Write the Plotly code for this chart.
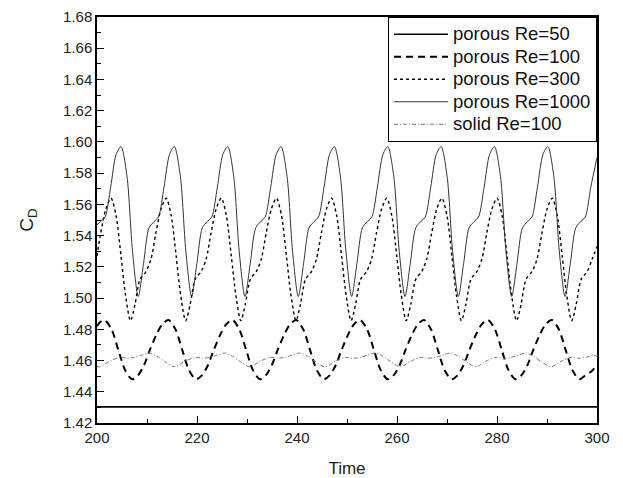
import plotly.graph_objects as go

# ---------------- data ----------------
# porous Re=50 : constant drag
t_re50 = [200.0, 300.0]
cd_re50 = [1.4303, 1.4303]

# porous Re=100 (dashed)
t_re100 = [200.00, 200.75,
           201.50, 202.90, 204.25, 205.60, 207.00, 208.20, 209.40, 210.60, 211.80, 213.00,
           214.28, 215.68, 217.03, 218.38, 219.78, 220.98, 222.18, 223.38, 224.58, 225.78,
           227.06, 228.46, 229.81, 231.16, 232.56, 233.76, 234.96, 236.16, 237.36, 238.56,
           239.84, 241.24, 242.59, 243.94, 245.34, 246.54, 247.74, 248.94, 250.14, 251.34,
           252.62, 254.02, 255.37, 256.72, 258.12, 259.32, 260.52, 261.72, 262.92, 264.12,
           265.40, 266.80, 268.15, 269.50, 270.90, 272.10, 273.30, 274.50, 275.70, 276.90,
           278.18, 279.58, 280.93, 282.28, 283.68, 284.88, 286.08, 287.28, 288.48, 289.68,
           290.96, 292.36, 293.71, 295.06, 296.46, 297.66, 298.86, 300.00]
cd_re100 = [1.482, 1.485,
            1.486, 1.480, 1.467, 1.454, 1.448, 1.4505, 1.457, 1.467, 1.476, 1.483,
            1.486, 1.480, 1.467, 1.454, 1.448, 1.4505, 1.457, 1.467, 1.476, 1.483,
            1.486, 1.480, 1.467, 1.454, 1.448, 1.4505, 1.457, 1.467, 1.476, 1.483,
            1.486, 1.480, 1.467, 1.454, 1.448, 1.4505, 1.457, 1.467, 1.476, 1.483,
            1.486, 1.480, 1.467, 1.454, 1.448, 1.4505, 1.457, 1.467, 1.476, 1.483,
            1.486, 1.480, 1.467, 1.454, 1.448, 1.4505, 1.457, 1.467, 1.476, 1.483,
            1.486, 1.480, 1.467, 1.454, 1.448, 1.4505, 1.457, 1.467, 1.476, 1.483,
            1.486, 1.480, 1.467, 1.454, 1.448, 1.4505, 1.453, 1.457]

# porous Re=300 (dotted)
t_re300 = [200.00, 200.77, 201.77,
           202.80, 203.80, 204.80, 205.70, 206.70, 207.60, 208.60, 209.80, 210.80, 211.80, 212.80,
           213.83, 214.83, 215.83, 216.73, 217.73, 218.63, 219.63, 220.83, 221.83, 222.83, 223.83,
           224.86, 225.86, 226.86, 227.76, 228.76, 229.66, 230.66, 231.86, 232.86, 233.86, 234.86,
           235.89, 236.89, 237.89, 238.79, 239.79, 240.69, 241.69, 242.89, 243.89, 244.89, 245.89,
           246.92, 247.92, 248.92, 249.82, 250.82, 251.72, 252.72, 253.92, 254.92, 255.92, 256.92,
           257.95, 258.95, 259.95, 260.85, 261.85, 262.75, 263.75, 264.95, 265.95, 266.95, 267.95,
           268.98, 269.98, 270.98, 271.88, 272.88, 273.78, 274.78, 275.98, 276.98, 277.98, 278.98,
           280.01, 281.01, 282.01, 282.91, 283.91, 284.81, 285.81, 287.01, 288.01, 289.01, 290.01,
           291.04, 292.04, 293.04, 293.94, 294.94, 295.84, 296.84, 298.04, 299.04, 300.00]
cd_re300 = [1.527, 1.542, 1.557,
            1.564, 1.553, 1.527, 1.502, 1.4855, 1.496, 1.512, 1.517, 1.525, 1.542, 1.557,
            1.564, 1.553, 1.527, 1.502, 1.4855, 1.496, 1.512, 1.517, 1.525, 1.542, 1.557,
            1.564, 1.553, 1.527, 1.502, 1.4855, 1.496, 1.512, 1.517, 1.525, 1.542, 1.557,
            1.564, 1.553, 1.527, 1.502, 1.4855, 1.496, 1.512, 1.517, 1.525, 1.542, 1.557,
            1.564, 1.553, 1.527, 1.502, 1.4855, 1.496, 1.512, 1.517, 1.525, 1.542, 1.557,
            1.564, 1.553, 1.527, 1.502, 1.4855, 1.496, 1.512, 1.517, 1.525, 1.542, 1.557,
            1.564, 1.553, 1.527, 1.502, 1.4855, 1.496, 1.512, 1.517, 1.525, 1.542, 1.557,
            1.564, 1.553, 1.527, 1.502, 1.4855, 1.496, 1.512, 1.517, 1.525, 1.542, 1.557,
            1.564, 1.553, 1.527, 1.502, 1.4855, 1.496, 1.512, 1.517, 1.525, 1.533]

# porous Re=1000 (thin solid)
t_re1000 = [200.00, 200.73, 201.63, 202.73, 203.83,
            204.80, 206.00, 207.10, 208.25, 209.30, 210.40, 211.40, 212.30, 213.40, 214.50,
            215.47, 216.67, 217.77, 218.92, 219.97, 221.07, 222.07, 222.97, 224.07, 225.17,
            226.14, 227.34, 228.44, 229.59, 230.64, 231.74, 232.74, 233.64, 234.74, 235.84,
            236.81, 238.01, 239.11, 240.26, 241.31, 242.41, 243.41, 244.31, 245.41, 246.51,
            247.48, 248.68, 249.78, 250.93, 251.98, 253.08, 254.08, 254.98, 256.08, 257.18,
            258.15, 259.35, 260.45, 261.60, 262.65, 263.75, 264.75, 265.65, 266.75, 267.85,
            268.82, 270.02, 271.12, 272.27, 273.32, 274.42, 275.42, 276.32, 277.42, 278.52,
            279.49, 280.69, 281.79, 282.94, 283.99, 285.09, 286.09, 286.99, 288.09, 289.19,
            290.16, 291.36, 292.46, 293.61, 294.66, 295.76, 296.76, 297.66, 298.76, 300.00]
cd_re1000 = [1.547, 1.549, 1.552, 1.571, 1.592,
             1.597, 1.578, 1.530, 1.501, 1.522, 1.545, 1.549, 1.552, 1.571, 1.592,
             1.597, 1.578, 1.530, 1.501, 1.522, 1.545, 1.549, 1.552, 1.571, 1.592,
             1.597, 1.578, 1.530, 1.501, 1.522, 1.545, 1.549, 1.552, 1.571, 1.592,
             1.597, 1.578, 1.530, 1.501, 1.522, 1.545, 1.549, 1.552, 1.571, 1.592,
             1.597, 1.578, 1.530, 1.501, 1.522, 1.545, 1.549, 1.552, 1.571, 1.592,
             1.597, 1.578, 1.530, 1.501, 1.522, 1.545, 1.549, 1.552, 1.571, 1.592,
             1.597, 1.578, 1.530, 1.501, 1.522, 1.545, 1.549, 1.552, 1.571, 1.592,
             1.597, 1.578, 1.530, 1.501, 1.522, 1.545, 1.549, 1.552, 1.571, 1.592,
             1.597, 1.578, 1.530, 1.501, 1.522, 1.545, 1.549, 1.552, 1.571, 1.590]

# solid Re=100 (dash-dot, grey)
t_solid100 = [200.00,
              200.50, 202.50, 204.50, 206.00, 207.50, 209.00, 210.50, 212.00, 213.50,
              215.55, 217.55, 219.55, 221.05, 222.55, 224.05, 225.55, 227.05, 228.55,
              230.60, 232.60, 234.60, 236.10, 237.60, 239.10, 240.60, 242.10, 243.60,
              245.65, 247.65, 249.65, 251.15, 252.65, 254.15, 255.65, 257.15, 258.65,
              260.70, 262.70, 264.70, 266.20, 267.70, 269.20, 270.70, 272.20, 273.70,
              275.75, 277.75, 279.75, 281.25, 282.75, 284.25, 285.75, 287.25, 288.75,
              290.80, 292.80, 294.80, 296.30, 297.80, 299.30, 300.00]
cd_solid100 = [1.4563,
               1.456, 1.4595, 1.462, 1.4615, 1.462, 1.4635, 1.4648, 1.4628, 1.4595,
               1.456, 1.4595, 1.462, 1.4615, 1.462, 1.4635, 1.4648, 1.4628, 1.4595,
               1.456, 1.4595, 1.462, 1.4615, 1.462, 1.4635, 1.4648, 1.4628, 1.4595,
               1.456, 1.4595, 1.462, 1.4615, 1.462, 1.4635, 1.4648, 1.4628, 1.4595,
               1.456, 1.4595, 1.462, 1.4615, 1.462, 1.4635, 1.4648, 1.4628, 1.4595,
               1.456, 1.4595, 1.462, 1.4615, 1.462, 1.4635, 1.4648, 1.4628, 1.4595,
               1.456, 1.4595, 1.462, 1.4615, 1.462, 1.4635, 1.4625]

series_names = ["porous Re=50", "porous Re=100", "porous Re=300", "porous Re=1000", "solid Re=100"]

x_range = [200, 300]
y_range = [1.42, 1.68]

# ---------------- figure ----------------
FONT = "Liberation Sans, Arial, sans-serif"


def legend_label(s):
    # larger glyphs than the legend's nominal size, so the rows stay compact
    return '<span style="font-size:18.5px">' + s + "</span>"


fig = go.Figure()

fig.add_trace(go.Scatter(x=t_re50, y=cd_re50, mode="lines", name=legend_label(series_names[0]),
                         line=dict(color="black", width=1.6)))
fig.add_trace(go.Scatter(x=t_re100, y=cd_re100, mode="lines", name=legend_label(series_names[1]),
                         line=dict(color="black", width=2, dash="7px,5px", shape="spline", smoothing=0.8)))
fig.add_trace(go.Scatter(x=t_re300, y=cd_re300, mode="lines", name=legend_label(series_names[2]),
                         line=dict(color="black", width=1.4, dash="dot", shape="spline", smoothing=0.8)))
fig.add_trace(go.Scatter(x=t_re1000, y=cd_re1000, mode="lines", name=legend_label(series_names[3]),
                         line=dict(color="#333333", width=1, shape="spline", smoothing=0.8)))
fig.add_trace(go.Scatter(x=t_solid100, y=cd_solid100, mode="lines", name=legend_label(series_names[4]),
                         line=dict(color="#777777", width=1, dash="4px,2px,1px,2px", shape="spline", smoothing=0.8)))

fig.update_layout(
    width=623, height=478,
    margin=dict(l=97, r=26, t=17, b=55),
    paper_bgcolor="white", plot_bgcolor="white",
    font=dict(family=FONT, color="#222222", size=15),
    showlegend=True,
    legend=dict(x=1, xanchor="right", y=1, yanchor="top",
                bgcolor="white", bordercolor="black", borderwidth=1,
                font=dict(family=FONT, size=15, color="#111111"),
                itemwidth=54, tracegroupgap=0),
)

fig.update_xaxes(range=x_range, dtick=20, tick0=200, automargin=False,
                 showline=True, linecolor="black", linewidth=1.5, mirror=True,
                 ticks="inside", ticklen=7, tickwidth=1.3, tickcolor="black",
                 minor=dict(dtick=10, ticks="inside", ticklen=4, tickcolor="black", tickwidth=1.3),
                 showgrid=False, zeroline=False,
                 tickfont=dict(size=15),
                 title=dict(text="Time", font=dict(size=17), standoff=18))
fig.update_yaxes(range=y_range, dtick=0.02, tick0=1.42, tickformat=".2f", automargin=False,
                 showline=True, linecolor="black", linewidth=1.5, mirror=True,
                 ticks="inside", ticklen=7, tickwidth=1.3, tickcolor="black",
                 minor=dict(dtick=0.01, ticks="inside", ticklen=4, tickcolor="black", tickwidth=1.3),
                 showgrid=False, zeroline=False,
                 tickfont=dict(size=15),
                 title=dict(text="C<sub>D</sub>", font=dict(size=19), standoff=24))

fig.write_html("out.html")
